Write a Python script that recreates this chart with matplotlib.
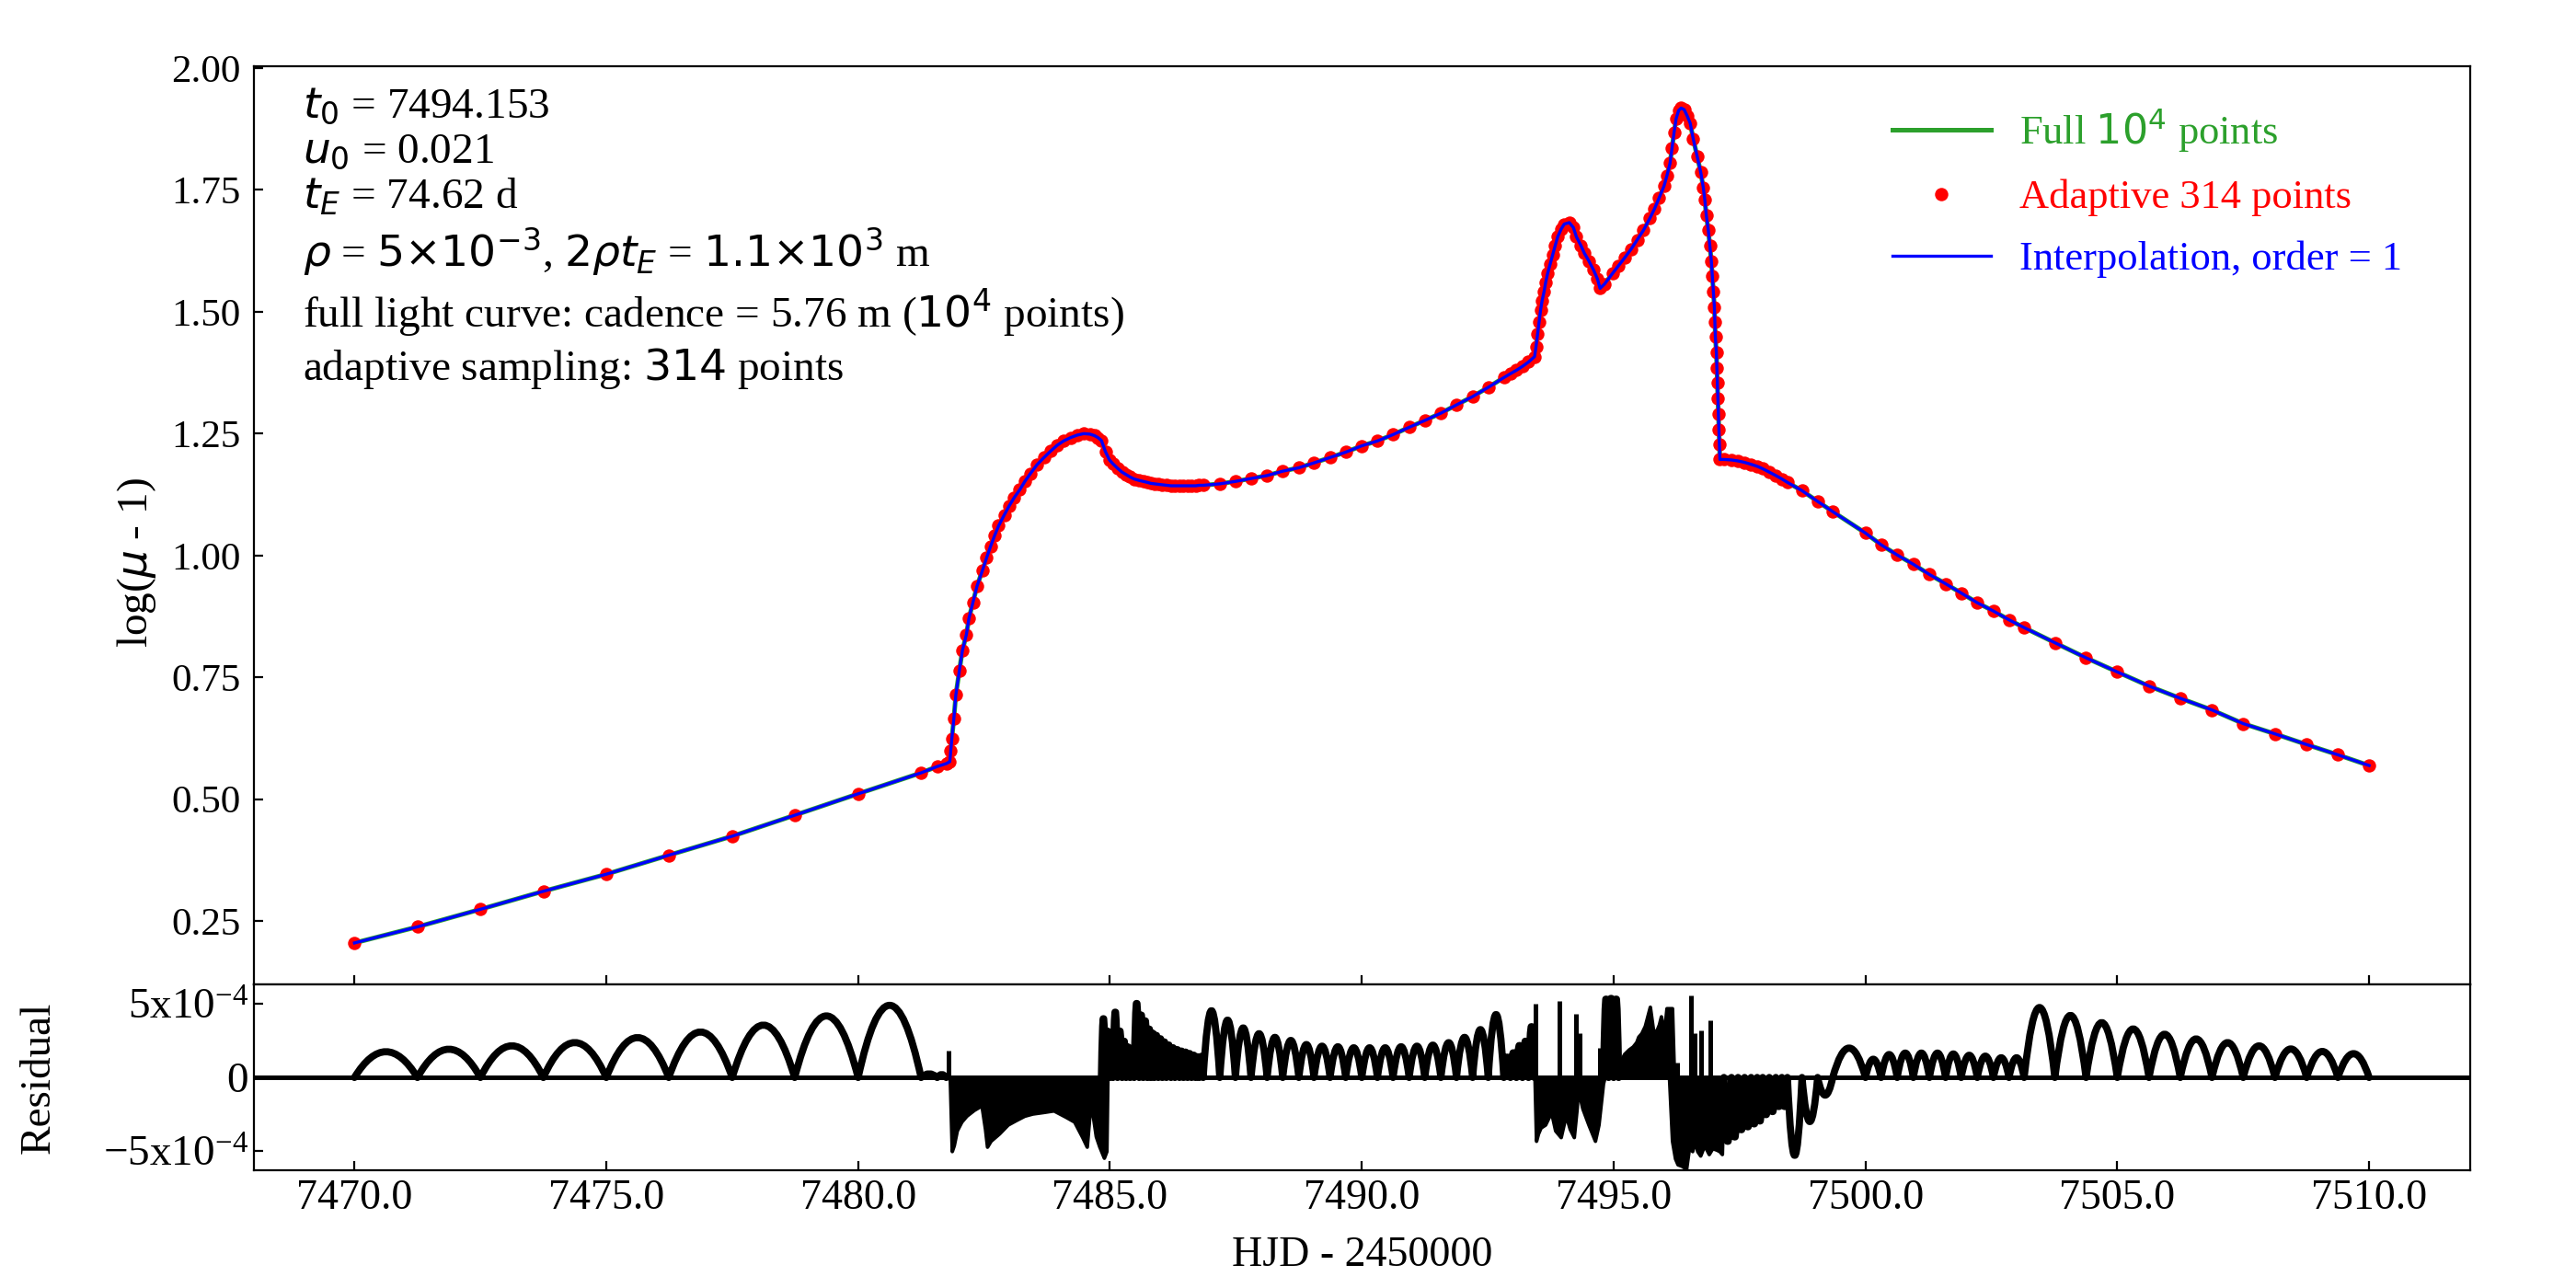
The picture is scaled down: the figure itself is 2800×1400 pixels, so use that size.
import numpy as np
import matplotlib
matplotlib.use('Agg')
import matplotlib.pyplot as plt
from matplotlib.path import Path
from matplotlib.patches import PathPatch

plt.rcParams['font.family'] = ['Liberation Serif', 'DejaVu Serif']
plt.rcParams['xtick.direction'] = 'in'
plt.rcParams['ytick.direction'] = 'in'

# adaptive sampling points of the light curve (HJD - 2450000, log(mu - 1))
t_adapt = [
    7470.0, 7471.25, 7472.5, 7473.75, 7475.0, 7476.24, 7477.5, 7478.74, 7480.0, 7481.25,
    7481.57, 7481.75, 7481.82, 7481.84, 7481.86, 7481.90, 7481.94, 7482.01, 7482.07, 7482.15,
    7482.20, 7482.28, 7482.36, 7482.47, 7482.55, 7482.63, 7482.71, 7482.79, 7482.90, 7483.00,
    7483.10, 7483.21, 7483.31, 7483.42, 7483.55, 7483.69, 7483.82, 7483.95, 7484.08, 7484.22,
    7484.35, 7484.48, 7484.60, 7484.69, 7484.76, 7484.83, 7484.91, 7484.99, 7485.06, 7485.15,
    7485.24, 7485.32, 7485.40, 7485.48, 7485.58, 7485.66, 7485.74, 7485.81, 7485.88, 7485.96,
    7486.04, 7486.12, 7486.21, 7486.29, 7486.38, 7486.46, 7486.54, 7486.62, 7486.70, 7486.77,
    7486.85, 7487.18, 7487.49, 7487.80, 7488.12, 7488.43, 7488.75, 7489.05, 7489.37, 7489.68,
    7490.00, 7490.31, 7490.62, 7490.94, 7491.25, 7491.57, 7491.88, 7492.20, 7492.51, 7492.82,
    7492.95, 7493.07, 7493.19, 7493.31, 7493.43, 7493.46, 7493.49, 7493.52, 7493.55, 7493.58,
    7493.62, 7493.65, 7493.69, 7493.74, 7493.79, 7493.84, 7493.89, 7493.96, 7494.02, 7494.12,
    7494.20, 7494.26, 7494.35, 7494.42, 7494.51, 7494.60, 7494.68, 7494.73, 7494.82, 7494.98,
    7495.10, 7495.22, 7495.35, 7495.47, 7495.59, 7495.72, 7495.81, 7495.90, 7496.00, 7496.06,
    7496.12, 7496.16, 7496.20, 7496.24, 7496.29, 7496.34, 7496.40, 7496.46, 7496.52, 7496.58,
    7496.66, 7496.73, 7496.78, 7496.81, 7496.84, 7496.88, 7496.91, 7496.94, 7496.96, 7496.98,
    7497.00, 7497.01, 7497.02, 7497.04, 7497.05, 7497.06, 7497.07, 7497.08, 7497.09, 7497.10,
    7497.11, 7497.19, 7497.34, 7497.47, 7497.60, 7497.73, 7497.85, 7497.96, 7498.09, 7498.22,
    7498.34, 7498.45, 7498.74, 7499.05, 7499.35, 7500.00, 7500.31, 7500.63, 7500.95, 7501.27,
    7501.59, 7501.90, 7502.22, 7502.54, 7502.85, 7503.15, 7503.76, 7504.38, 7505.00, 7505.63,
    7506.25, 7506.88, 7507.50, 7508.13, 7508.76, 7509.38, 7510.00]
logmu_adapt = [
    0.205, 0.238, 0.274, 0.311, 0.346, 0.385, 0.424, 0.467, 0.511, 0.554,
    0.567, 0.573, 0.577, 0.600, 0.624, 0.665, 0.714, 0.764, 0.805, 0.838,
    0.871, 0.904, 0.937, 0.970, 0.995, 1.019, 1.041, 1.061, 1.083, 1.102,
    1.119, 1.135, 1.152, 1.168, 1.186, 1.201, 1.214, 1.226, 1.235, 1.242,
    1.247, 1.250, 1.249, 1.246, 1.242, 1.236, 1.213, 1.196, 1.188, 1.179,
    1.171, 1.166, 1.161, 1.157, 1.154, 1.152, 1.150, 1.148, 1.147, 1.146,
    1.145, 1.144, 1.143, 1.143, 1.143, 1.143, 1.143, 1.143, 1.143, 1.144,
    1.144, 1.147, 1.152, 1.158, 1.164, 1.173, 1.180, 1.190, 1.201, 1.212,
    1.225, 1.235, 1.248, 1.263, 1.277, 1.292, 1.309, 1.326, 1.345, 1.365,
    1.373, 1.380, 1.388, 1.397, 1.408, 1.429, 1.454, 1.479, 1.504, 1.523,
    1.542, 1.560, 1.579, 1.598, 1.617, 1.636, 1.654, 1.670, 1.680, 1.683,
    1.673, 1.654, 1.636, 1.620, 1.604, 1.586, 1.567, 1.548, 1.557, 1.579,
    1.595, 1.611, 1.629, 1.648, 1.667, 1.692, 1.711, 1.733, 1.758, 1.780,
    1.805, 1.836, 1.868, 1.896, 1.913, 1.918, 1.915, 1.902, 1.887, 1.855,
    1.818, 1.786, 1.755, 1.730, 1.698, 1.667, 1.636, 1.604, 1.573, 1.542,
    1.510, 1.479, 1.448, 1.416, 1.385, 1.354, 1.322, 1.291, 1.259, 1.228,
    1.197, 1.197, 1.196, 1.194, 1.191, 1.187, 1.183, 1.178, 1.171, 1.164,
    1.157, 1.150, 1.133, 1.111, 1.090, 1.046, 1.022, 1.001, 0.982, 0.961,
    0.942, 0.923, 0.903, 0.886, 0.868, 0.852, 0.821, 0.790, 0.761, 0.732,
    0.707, 0.683, 0.655, 0.634, 0.612, 0.591, 0.569]

# residuals (full - interpolation), in units of 1e-4
# arches between consecutive sampling points: zero crossings and arch heights
arch_zeros = [
    [7470.0, 7471.25, 7472.5, 7473.75, 7475.0, 7476.24, 7477.5, 7478.74, 7480.0, 7481.25,
     7481.57, 7481.75],
    [7484.83, 7484.91, 7484.99, 7485.06, 7485.15, 7485.24, 7485.32, 7485.40, 7485.48, 7485.58,
     7485.66, 7485.74, 7485.81, 7485.88, 7485.96, 7486.04, 7486.12, 7486.21, 7486.29, 7486.38,
     7486.46, 7486.54, 7486.62, 7486.70, 7486.77, 7486.85, 7487.18, 7487.49, 7487.80, 7488.12,
     7488.43, 7488.75, 7489.05, 7489.37, 7489.68, 7490.00, 7490.31, 7490.62, 7490.94, 7491.25,
     7491.57, 7491.88, 7492.20, 7492.51, 7492.82, 7492.95, 7493.07, 7493.19, 7493.31, 7493.43],
    [7494.80, 7494.90, 7495.00, 7495.10],
    [7497.19, 7497.34, 7497.47, 7497.60, 7497.73, 7497.85, 7497.96, 7498.09, 7498.22, 7498.34,
     7498.45, 7498.74, 7499.05, 7499.35, 7500.00, 7500.31, 7500.63, 7500.95, 7501.27, 7501.59,
     7501.90, 7502.22, 7502.54, 7502.85, 7503.15, 7503.76, 7504.38, 7505.00, 7505.63, 7506.25,
     7506.88, 7507.50, 7508.13, 7508.76, 7509.38, 7510.00],
]
arch_heights = [
    [1.75, 1.92, 2.15, 2.37, 2.71, 3.09, 3.56, 4.18, 4.90, 0.25, 0.2],
    [4.05, 3.2, 3.0, 4.5, 3.2, 2.5, 2.1, 1.8, 5.1, 4.3,
     3.9, 3.5, 3.2, 2.9, 2.67, 2.45, 2.24, 2.05, 1.92, 1.82,
     1.75, 1.65, 1.54, 1.5, 1.45, 4.54, 3.9, 3.37, 2.98, 2.73,
     2.52, 2.24, 2.13, 2.09, 2.02, 2.02, 2.02, 2.09, 2.13, 2.2,
     2.37, 2.73, 3.26, 4.28, 1.4, 1.7, 2.2, 2.5, 3.5],
    [5.4, 5.45, 5.4],
    [-4.4, -4.1, -3.6, -3.4, -3.2, -3.0, -2.56, -2.35, -2.0, -2.0,
     -5.3, -3.0, -1.2, 2.0, 1.24, 1.56, 1.66, 1.66, 1.66, 1.6,
     1.51, 1.45, 1.34, 1.34, 4.75, 4.22, 3.73, 3.3, 2.94, 2.62,
     2.37, 2.15, 1.94, 1.77, 1.62],
]

# dense caustic-crossing parts of the residual (envelope of the oscillations)
band_t = [
    [7481.82, 7481.86, 7481.90, 7481.96, 7482.05, 7482.15, 7482.30, 7482.45, 7482.52, 7482.56,
     7482.63, 7482.80, 7482.97, 7483.13, 7483.30, 7483.46, 7483.67, 7483.88, 7484.12, 7484.29,
     7484.45, 7484.54, 7484.60, 7484.66, 7484.72, 7484.79, 7484.88, 7484.93, 7484.95],
    [7493.43, 7493.46, 7493.50, 7493.55, 7493.64, 7493.76, 7493.84, 7493.95, 7494.05, 7494.13,
     7494.21, 7494.27, 7494.30, 7494.34, 7494.38, 7494.50, 7494.63, 7494.70, 7494.79, 7494.82],
    [7495.10, 7495.15, 7495.21, 7495.30, 7495.38, 7495.45, 7495.49, 7495.55, 7495.62, 7495.72,
     7495.78, 7495.83, 7495.90, 7495.94, 7496.00, 7496.05, 7496.10, 7496.16, 7496.20],
    [7496.10, 7496.16, 7496.22, 7496.27, 7496.35, 7496.44, 7496.50, 7496.56, 7496.61, 7496.66,
     7496.72, 7496.80, 7496.89, 7496.96, 7497.04, 7497.10, 7497.15, 7497.19],
]
band_r = [
    [0, -5.0, -4.6, -3.6, -3.0, -2.6, -2.2, -1.9, -3.5, -4.7,
     -4.3, -3.8, -3.2, -2.9, -2.6, -2.45, -2.35, -2.24, -2.67, -3.0,
     -4.05, -4.7, -2.3, -2.6, -4.0, -4.7, -5.45, -5.0, 0],
    [0, -4.3, -3.8, -3.4, -3.2, -2.35, -3.6, -4.05, -2.56, -3.5,
     -4.05, -2.0, 0, -1.5, -2.1, -3.2, -4.3, -3.2, -0.4, 0],
    [0, 1.2, 1.6, 1.9, 2.1, 2.4, 2.77, 3.0, 3.5, 4.8,
     3.3, 3.0, 3.6, 4.15, 3.0, 4.7, 4.7, 4.7, 0],
    [0, -4.3, -5.5, -5.9, -6.0, -6.2, -4.7, -5.0, -4.3, -5.0,
     -5.3, -4.6, -5.2, -4.8, -4.9, -5.0, -5.2, 0],
]

# isolated narrow spikes
spike_t = [7481.80, 7493.45, 7493.92, 7494.25, 7494.33, 7494.72, 7496.27, 7496.53, 7496.61,
           7496.74, 7496.92]
spike_r = [1.8, 5.0, 5.2, 4.3, 3.0, 2.0, 1.0, 5.6, 3.0, 3.2, 3.9]

res_unit = 1e-4
xticks = [7470, 7475, 7480, 7485, 7490, 7495, 7500, 7505, 7510]
yticks_main = [0.25, 0.50, 0.75, 1.00, 1.25, 1.50, 1.75, 2.00]

fig = plt.figure(figsize=(14, 7), dpi=200)
ax = fig.add_axes([0.0985, 0.2355, 0.8603, 0.713])
axr = fig.add_axes([0.0985, 0.0914, 0.8603, 0.1441], sharex=ax)

ax.plot(t_adapt, logmu_adapt, color='tab:green', lw=1.8, zorder=1, label=r'Full $10^4$ points')
ax.plot(t_adapt, logmu_adapt, 'o', color='r', ms=5.2, mew=0, zorder=2, label='Adaptive 314 points')
ax.plot(t_adapt, logmu_adapt, color='b', lw=1.2, zorder=3, label='Interpolation, order = 1')

leg = ax.legend(loc='upper right', bbox_to_anchor=(0.986, 0.997), frameon=False, fontsize=16,
                numpoints=1, handlelength=2.4, handletextpad=0.7, labelspacing=0.6,
                labelcolor='linecolor')

info = [
    r'$t_0$ = 7494.153',
    r'$u_0$ = 0.021',
    r'$t_E$ = 74.62 d',
    r'$\rho$ = $5{\times}10^{-3}$, $2\rho t_E$ = $1.1{\times}10^3$ m',
    r'full light curve: cadence = 5.76 m ($10^4$ points)',
    r'adaptive sampling: $314$ points',
]
info_y = [0.945, 0.895, 0.845, 0.782, 0.716, 0.658]
for s, yy in zip(info, info_y):
    ax.text(0.022, yy, s, transform=ax.transAxes, fontsize=17, va='baseline', ha='left')

ax.set_yticks(yticks_main)
ax.yaxis.set_major_formatter(matplotlib.ticker.FormatStrFormatter('%.2f'))
ax.tick_params(axis='x', labelbottom=False)
ax.tick_params(axis='y', labelsize=15.5, pad=5)
ax.set_ylabel(r'log($\mu$ - 1)', fontsize=17)
ax.yaxis.set_label_coords(-0.043, 0.46)

# residual panel
for zs, hs in zip(arch_zeros, arch_heights):
    verts = [(zs[0], 0.0)]
    codes = [Path.MOVETO]
    for i, h in enumerate(hs):
        verts.append((0.5 * (zs[i] + zs[i + 1]), 2 * h * res_unit))
        verts.append((zs[i + 1], 0.0))
        codes += [Path.CURVE3, Path.CURVE3]
    axr.add_patch(PathPatch(Path(verts, codes), fill=False, ec='k', lw=2.8,
                            capstyle='round', joinstyle='round'))
for bt, br in zip(band_t, band_r):
    axr.fill_between(bt, 0, np.array(br) * res_unit, color='k', lw=1.4)
axr.vlines(spike_t, 0, np.array(spike_r) * res_unit, color='k', lw=1.8)
axr.axhline(0, color='k', lw=1.8)

axr.set_xlim(7468, 7512)
axr.set_ylim(-6.3e-4, 6.3e-4)
axr.set_xticks(xticks)
axr.xaxis.set_major_formatter(matplotlib.ticker.FormatStrFormatter('%.1f'))
axr.set_yticks([-5e-4, 0, 5e-4])
axr.set_yticklabels([r'$\mathregular{-5x10^{-4}}$', '0', r'$\mathregular{5x10^{-4}}$'])
axr.tick_params(axis='x', labelsize=16.5)
axr.tick_params(axis='y', labelsize=17, pad=2)
axr.set_ylabel('Residual', fontsize=17)
axr.yaxis.set_label_coords(-0.088, 0.5)
axr.set_xlabel('HJD - 2450000', fontsize=16.5, labelpad=7)

plt.savefig('out.png', dpi=200)
